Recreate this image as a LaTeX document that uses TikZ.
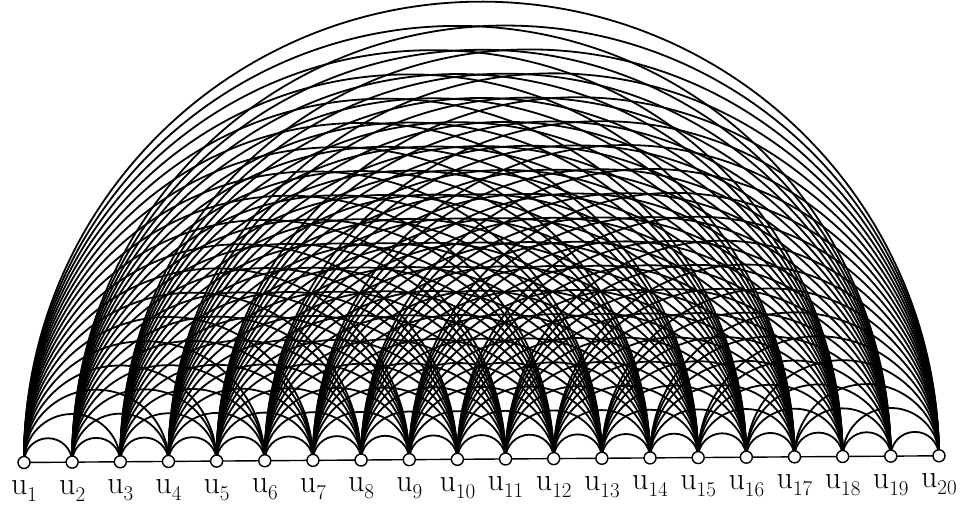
\documentclass[tikz,border=0pt]{standalone}
\usepackage{tikz}
\pgfdeclarelayer{background}
\pgfsetlayers{background,main}
\newcommand{\vname}[1]{u\raisebox{-7pt}{\fontsize{21}{21}\selectfont #1}}
\tikzset{
  vertex/.style={
    circle, draw, fill=white, line width=1.4pt,
    inner sep=0pt, minimum size=12pt
  },
  vlabel/.style={
    font=\fontsize{32}{32}\selectfont, inner sep=0pt
  },
  edgearc/.style={line width=1.8pt},
  spine/.style={line width=1.4pt}
}

\begin{document}
\begin{tikzpicture}[x=1pt, y=1pt]
  \useasboundingbox (0,0) rectangle (961,505);

  \begin{scope}[shift={(24,42.5)}, rotate=0.42]
    % Vertices on the spine
    \foreach \i in {1,...,20}
      \node[vertex, label={[vlabel, label distance=11pt]below:\vname{\i}}]
        (v\i) at ({(\i-1)*48.16}, 0) {};

    \begin{pgfonlayer}{background}
      % Spine
      \draw[spine] (v1.center) -- (v20.center);
      % Every pair joined by a half circle
      \foreach \i in {1,...,19} {
        \pgfmathtruncatemacro{\nxt}{\i+1}
        \foreach \j in {\nxt,...,20}
          \draw[edgearc] (v\i.center)
            arc[start angle=180, end angle=0, radius={(\j-\i)*24.08}];
      }
    \end{pgfonlayer}
  \end{scope}
\end{tikzpicture}
\end{document}
